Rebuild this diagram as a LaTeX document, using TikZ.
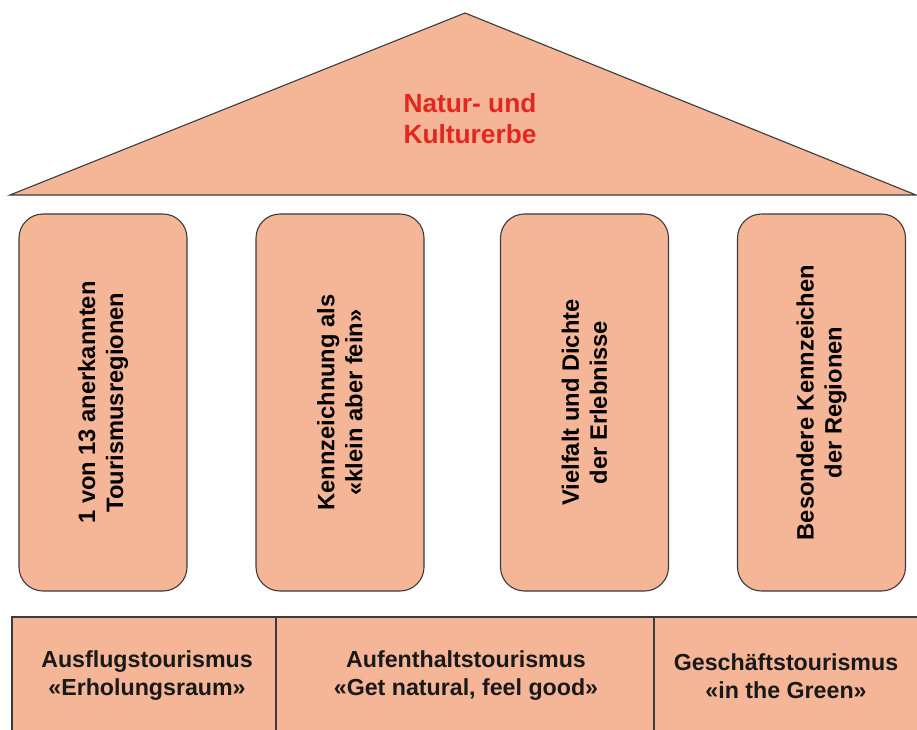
\documentclass[tikz,border=0pt]{standalone}
\usepackage{fontspec}
\setmainfont{Liberation Sans}
\definecolor{salmon}{HTML}{F5B597}
\definecolor{edge}{HTML}{3A3A3A}
\definecolor{rooftext}{HTML}{E3261E}
\begin{document}
\begin{tikzpicture}[x=1pt,y=-1pt,
  shape fill/.style={draw=edge, fill=salmon, line width=1.1pt},
  pillar/.style={shape fill, rounded corners=24pt, rotate=90, minimum width=377pt, minimum height=168pt, align=center, inner sep=0pt, font=\bfseries\fontsize{23.7}{28}\selectfont},
  celltext/.style={align=center, text=black!90, font=\bfseries\fontsize{23.2}{28}\selectfont},
  rooflabel/.style={align=center, text=rooftext, font=\bfseries\fontsize{26.3}{31}\selectfont}]
\useasboundingbox (0,0) rectangle (917,729);
\clip (0,0) rectangle (917,729);
% roof
\coordinate (roofL) at (10,195);
\coordinate (roofT) at (465,13);
\coordinate (roofR) at (916,195);
\draw[shape fill, line join=miter] (roofL) -- (roofT) -- (roofR) -- cycle;
\node[rooflabel] (roof) at (470,119) {Natur- und\\Kulturerbe};
% pillars
\node[pillar] (p1) at (103,402.5) {1 von 13 anerkannten\\Tourismusregionen};
\node[pillar] (p2) at (340,402.5) {Kennzeichnung als\\«klein aber fein»};
\node[pillar] (p3) at (584.5,402.5) {Vielfalt und Dichte\\der Erlebnisse};
\node[pillar] (p4) at (821.5,402.5) {Besondere Kennzeichen\\der Regionen};
% base
\draw[shape fill] (12,617) rectangle (276,760);
\draw[shape fill] (276,617) rectangle (654,760);
\draw[shape fill] (654,617) rectangle (940,760);
\node[celltext] (b1) at (147,676) {Ausflugstourismus\\«Erholungsraum»};
\node[celltext] (b2) at (466,676) {Aufenthaltstourismus\\«Get natural, feel good»};
\node[celltext] (b3) at (786,676) {Geschäftstourismus\\«in the Green»};
\end{tikzpicture}
\end{document}
